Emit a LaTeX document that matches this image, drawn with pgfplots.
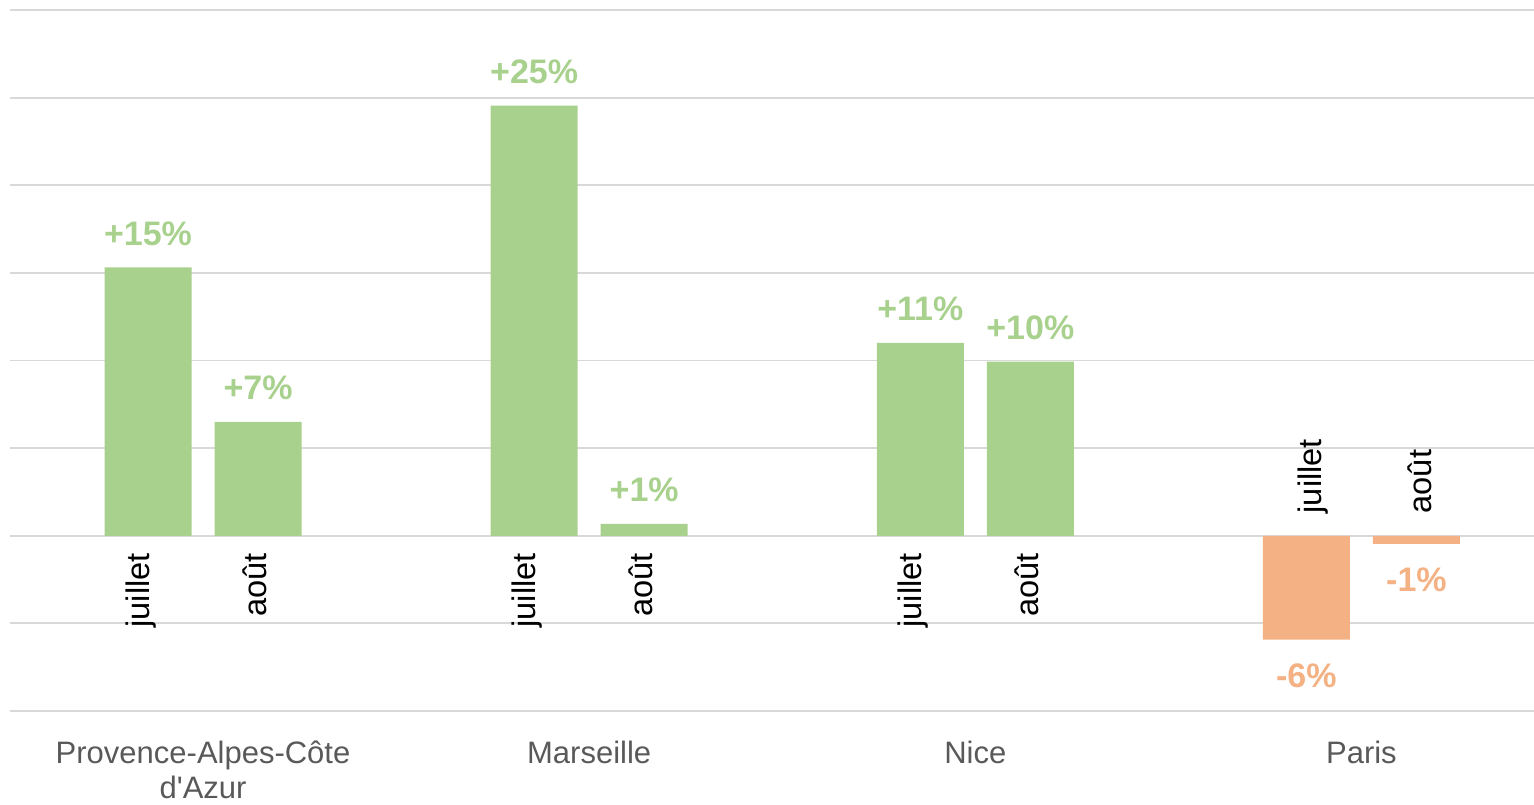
\documentclass[border=0pt]{standalone}
\usepackage{pgfplots}
\pgfplotsset{compat=1.18}
\usepackage{fontspec}
\setmainfont{Liberation Sans}
\definecolor{barg}{HTML}{A9D18E}
\definecolor{baro}{HTML}{F4B183}
\definecolor{gridc}{HTML}{D9D9D9}
\definecolor{catc}{HTML}{595959}
\begin{document}
\begin{tikzpicture}
\path[use as bounding box] (0,0) rectangle (767pt,402pt);
\begin{axis}[
  at={(5pt,46.5pt)}, anchor=south west,
  scale only axis, width=762pt, height=350.5pt,
  xmin=-0.5, xmax=3.447, ymin=-10, ymax=30,
  ytick={-10,-5,0,5,10,15,20,25,30}, yticklabels={},
  ymajorgrids, grid style={gridc, line width=0.9pt},
  axis line style={draw=none},
  major tick style={draw=none},
  xtick={0,1,2,3},
  xticklabels={{Provence-Alpes-Côte\\d\textquotesingle Azur},Marseille,Nice,Paris},
  xticklabel style={align=center, font=\fontsize{15.5}{17.5}\selectfont, text=catc, inner sep=0pt, yshift=-15pt},
  clip=false,
  bar width=43.5pt,
  bar shift=0pt,
]
% green bars (positive): juillet
\addplot[ybar, fill=barg, draw=none,
  point meta=explicit symbolic, nodes near coords,
  every node near coord/.append style={anchor=base, yshift=11pt, font=\fontsize{17}{20}\selectfont\bfseries, text=barg}]
  coordinates {(-0.1425,15.31)[+15\%] (0.8575,24.54)[+25\%] (1.8575,11.01)[+11\%]};
% green bars (positive): aout
\addplot[ybar, fill=barg, draw=none,
  point meta=explicit symbolic, nodes near coords,
  every node near coord/.append style={anchor=base, yshift=11pt, font=\fontsize{17}{20}\selectfont\bfseries, text=barg}]
  coordinates {(0.1425,6.50)[+7\%] (1.1425,0.68)[+1\%] (2.1425,9.93)[+10\%]};
% orange bars (negative)
\addplot[ybar, fill=baro, draw=none,
  point meta=explicit symbolic, nodes near coords,
  every node near coord/.append style={anchor=base, yshift=-23.8pt, font=\fontsize{17}{20}\selectfont\bfseries, text=baro}]
  coordinates {(2.8575,-5.93)[-6\%] (3.1425,-0.47)[-1\%]};
% month labels
\addplot[ybar, fill=none, draw=none, forget plot,
  point meta=explicit symbolic, nodes near coords,
  every node near coord/.append style={xshift=0.75pt, yshift=-8.5pt, rotate=90, anchor=base east, inner sep=0pt, font=\fontsize{16.3}{19}\selectfont, text=black}]
  coordinates {(-0.1425,0)[juillet] (0.8575,0)[juillet] (1.8575,0)[juillet]};
\addplot[ybar, fill=none, draw=none, forget plot,
  point meta=explicit symbolic, nodes near coords,
  every node near coord/.append style={xshift=4pt, yshift=-8.5pt, rotate=90, anchor=base east, inner sep=0pt, font=\fontsize{16.3}{19}\selectfont, text=black}]
  coordinates {(0.1425,0)[août] (1.1425,0)[août] (2.1425,0)[août]};
\addplot[ybar, fill=none, draw=none, forget plot,
  point meta=explicit symbolic, nodes near coords,
  every node near coord/.append style={xshift=7.5pt, yshift=11pt, rotate=90, anchor=base west, inner sep=0pt, font=\fontsize{16.3}{19}\selectfont, text=black}]
  coordinates {(2.8575,0)[juillet] (3.1425,0)[août]};
\end{axis}
\end{tikzpicture}
\end{document}
